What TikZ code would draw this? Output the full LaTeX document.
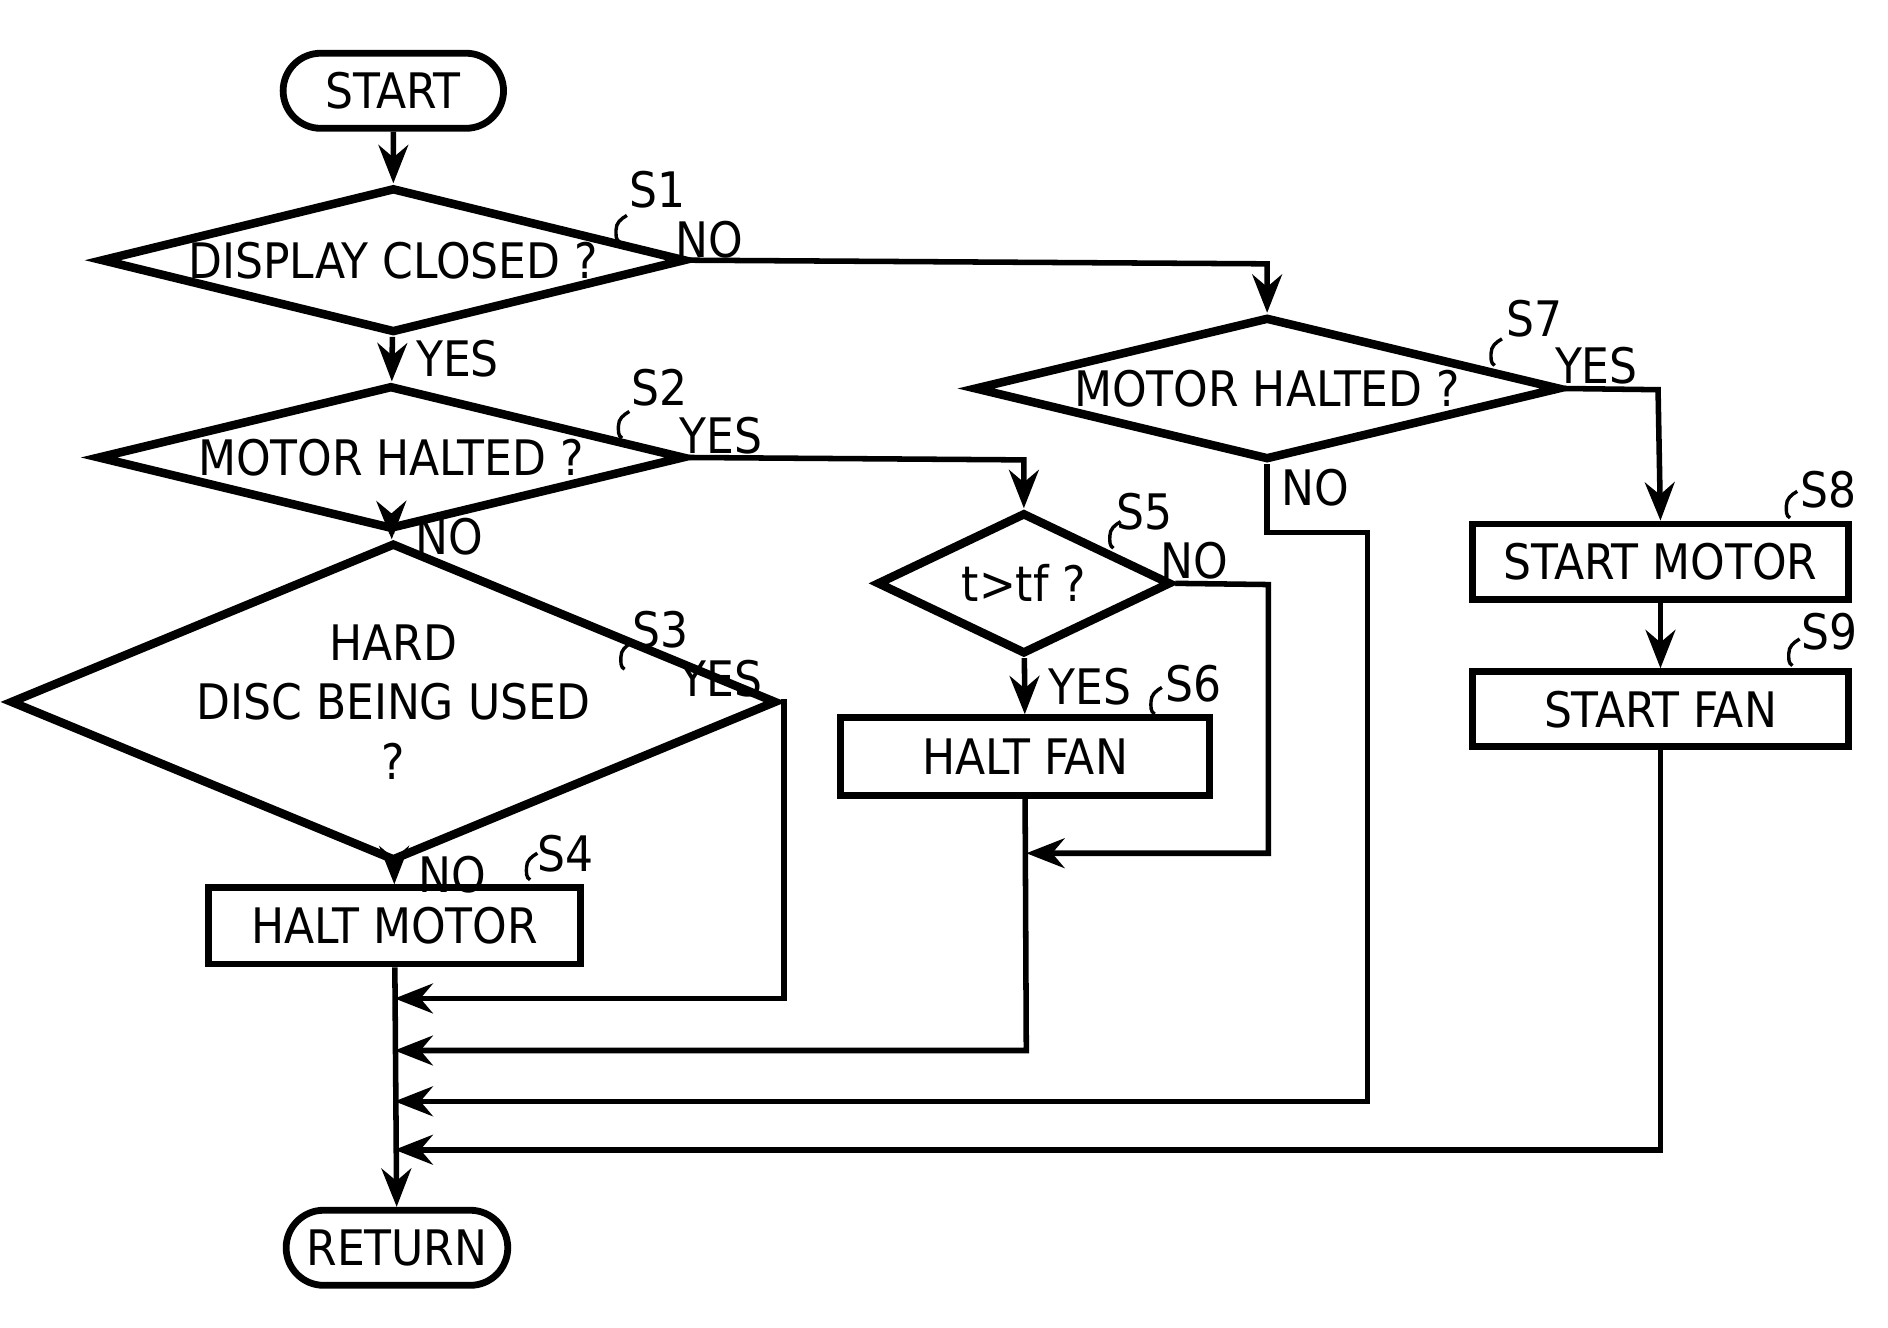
\documentclass[tikz,border=0pt]{standalone}
\usepackage{fontspec}
\setmainfont{DejaVu Sans Condensed}
\usetikzlibrary{shapes.geometric, shapes.misc, arrows.meta, positioning, calc}

\newcommand{\steptag}[3]{% squiggle start, label position, text
  \draw[line width=0.8pt] (#1) to[out=150,in=-90] ++(-3,-10) to[out=90,in=210] ++(9,-12);
  \node[font=\fontsize{11.5}{14}\selectfont] at (#2) {#3};}

\begin{document}
\begin{tikzpicture}[x=0.01cm, y=-0.01cm,
    every node/.style={font=\fontsize{11.5}{14}\selectfont},
    term/.style={draw, rounded rectangle, line width=1.6pt, minimum width=1.82cm, minimum height=0.62cm, inner sep=0pt},
    decision/.style={draw, diamond, line width=2pt, inner sep=0pt, align=center},
    process/.style={draw, rectangle, line width=1.6pt, minimum width=3.07cm, minimum height=0.63cm, inner sep=0pt},
    flow/.style={line width=1.3pt, -{Stealth[length=9pt, width=7pt]}},
    answer/.style={font=\fontsize{11.5}{14}\selectfont, inner sep=1pt}
]
    \useasboundingbox (0,0) rectangle (1560,1097);

    \node[term] (start) at (325,75) {START};
    \node[decision, aspect=4.02, minimum width=4.83cm, minimum height=1.2cm] (closed) at (325,215) {DISPLAY CLOSED ?};
    \node[decision, aspect=4.07, minimum width=4.85cm, minimum height=1.19cm] (halted) at (323,378) {MOTOR HALTED ?};
    \node[decision, aspect=2.41, minimum width=4.83cm, minimum height=2.0cm] (disc) at (325,580) {HARD\\DISC BEING USED\\?};
    \node[process] (haltmotor) at (326,765) {HALT MOTOR};
    \node[term, minimum width=1.83cm] (return) at (328,1031) {RETURN};

    \node[decision, aspect=2.08, minimum width=2.43cm, minimum height=1.17cm] (timer) at (846,482) {t>tf ?};
    \node[process, minimum width=3.05cm, minimum height=0.64cm] (haltfan) at (847,625) {HALT FAN};

    \node[decision, aspect=4.1, minimum width=4.84cm, minimum height=1.18cm] (halted2) at (1047,321) {MOTOR HALTED ?};
    \node[process, minimum width=3.1cm, minimum height=0.62cm] (startmotor) at (1372,464) {START MOTOR};
    \node[process, minimum width=3.1cm, minimum height=0.62cm] (startfan) at (1372,586) {START FAN};

    \coordinate (j1) at (326,825);
    \coordinate (j2) at (326,868);
    \coordinate (j3) at (326,910);
    \coordinate (j4) at (326,950);
    \coordinate (j5) at (848,705);

    % main column
    \draw[flow] (start) -- (closed);
    \draw[flow] (closed) -- node[answer, right=4pt] {YES} (halted);
    \draw[flow] (halted) -- node[answer, right=4pt] {NO} (disc);
    \draw[flow] (disc) -- node[answer, right=4pt] {NO} (haltmotor);
    \draw[flow] (haltmotor) -- (return);

    % branches
    \draw[flow] (closed.east) -- (1047,218) -- (halted2.north);
    \draw[flow] (halted.east) -- (846,380) -- (timer.north);
    \draw[flow] (disc.east) -- (648,580) -- (648,825) -- (j1);
    \draw[flow] (timer) -- node[answer, right=4pt] {YES} (haltfan);
    \draw[flow] (timer.east) -- (1048,483) -- (1048,705) -- (j5);
    \draw[flow] (haltfan.south) -- (848,868) -- (j2);
    \draw[flow] (halted2.south) -- (1047,440) -- (1130,440) -- (1130,910) -- (j3);
    \draw[flow] (halted2.east) -- (1370,322) -- (startmotor.north);
    \draw[flow] (startmotor) -- (startfan);
    \draw[flow] (startfan.south) -- (1372,950) -- (j4);

    % answers on the side exits
    \node[answer] at (586,198) {NO};
    \node[answer] at (596,360) {YES};
    \node[answer] at (596,561) {YES};
    \node[answer] at (987,463) {NO};
    \node[answer] at (1319,302) {YES};
    \node[answer] at (1087,403) {NO};

    % step tags
    \steptag{512,200}{543,157}{S1}
    \steptag{514,362}{545,320}{S2}
    \steptag{516,553}{546,520}{S3}
    \steptag{438,727}{467,705}{S4}
    \steptag{920,453}{946,423}{S5}
    \steptag{954,590}{986,565}{S6}
    \steptag{1235,302}{1268,263}{S7}
    \steptag{1479,428}{1511,405}{S8}
    \steptag{1481,550}{1512,522}{S9}
\end{tikzpicture}
\end{document}
